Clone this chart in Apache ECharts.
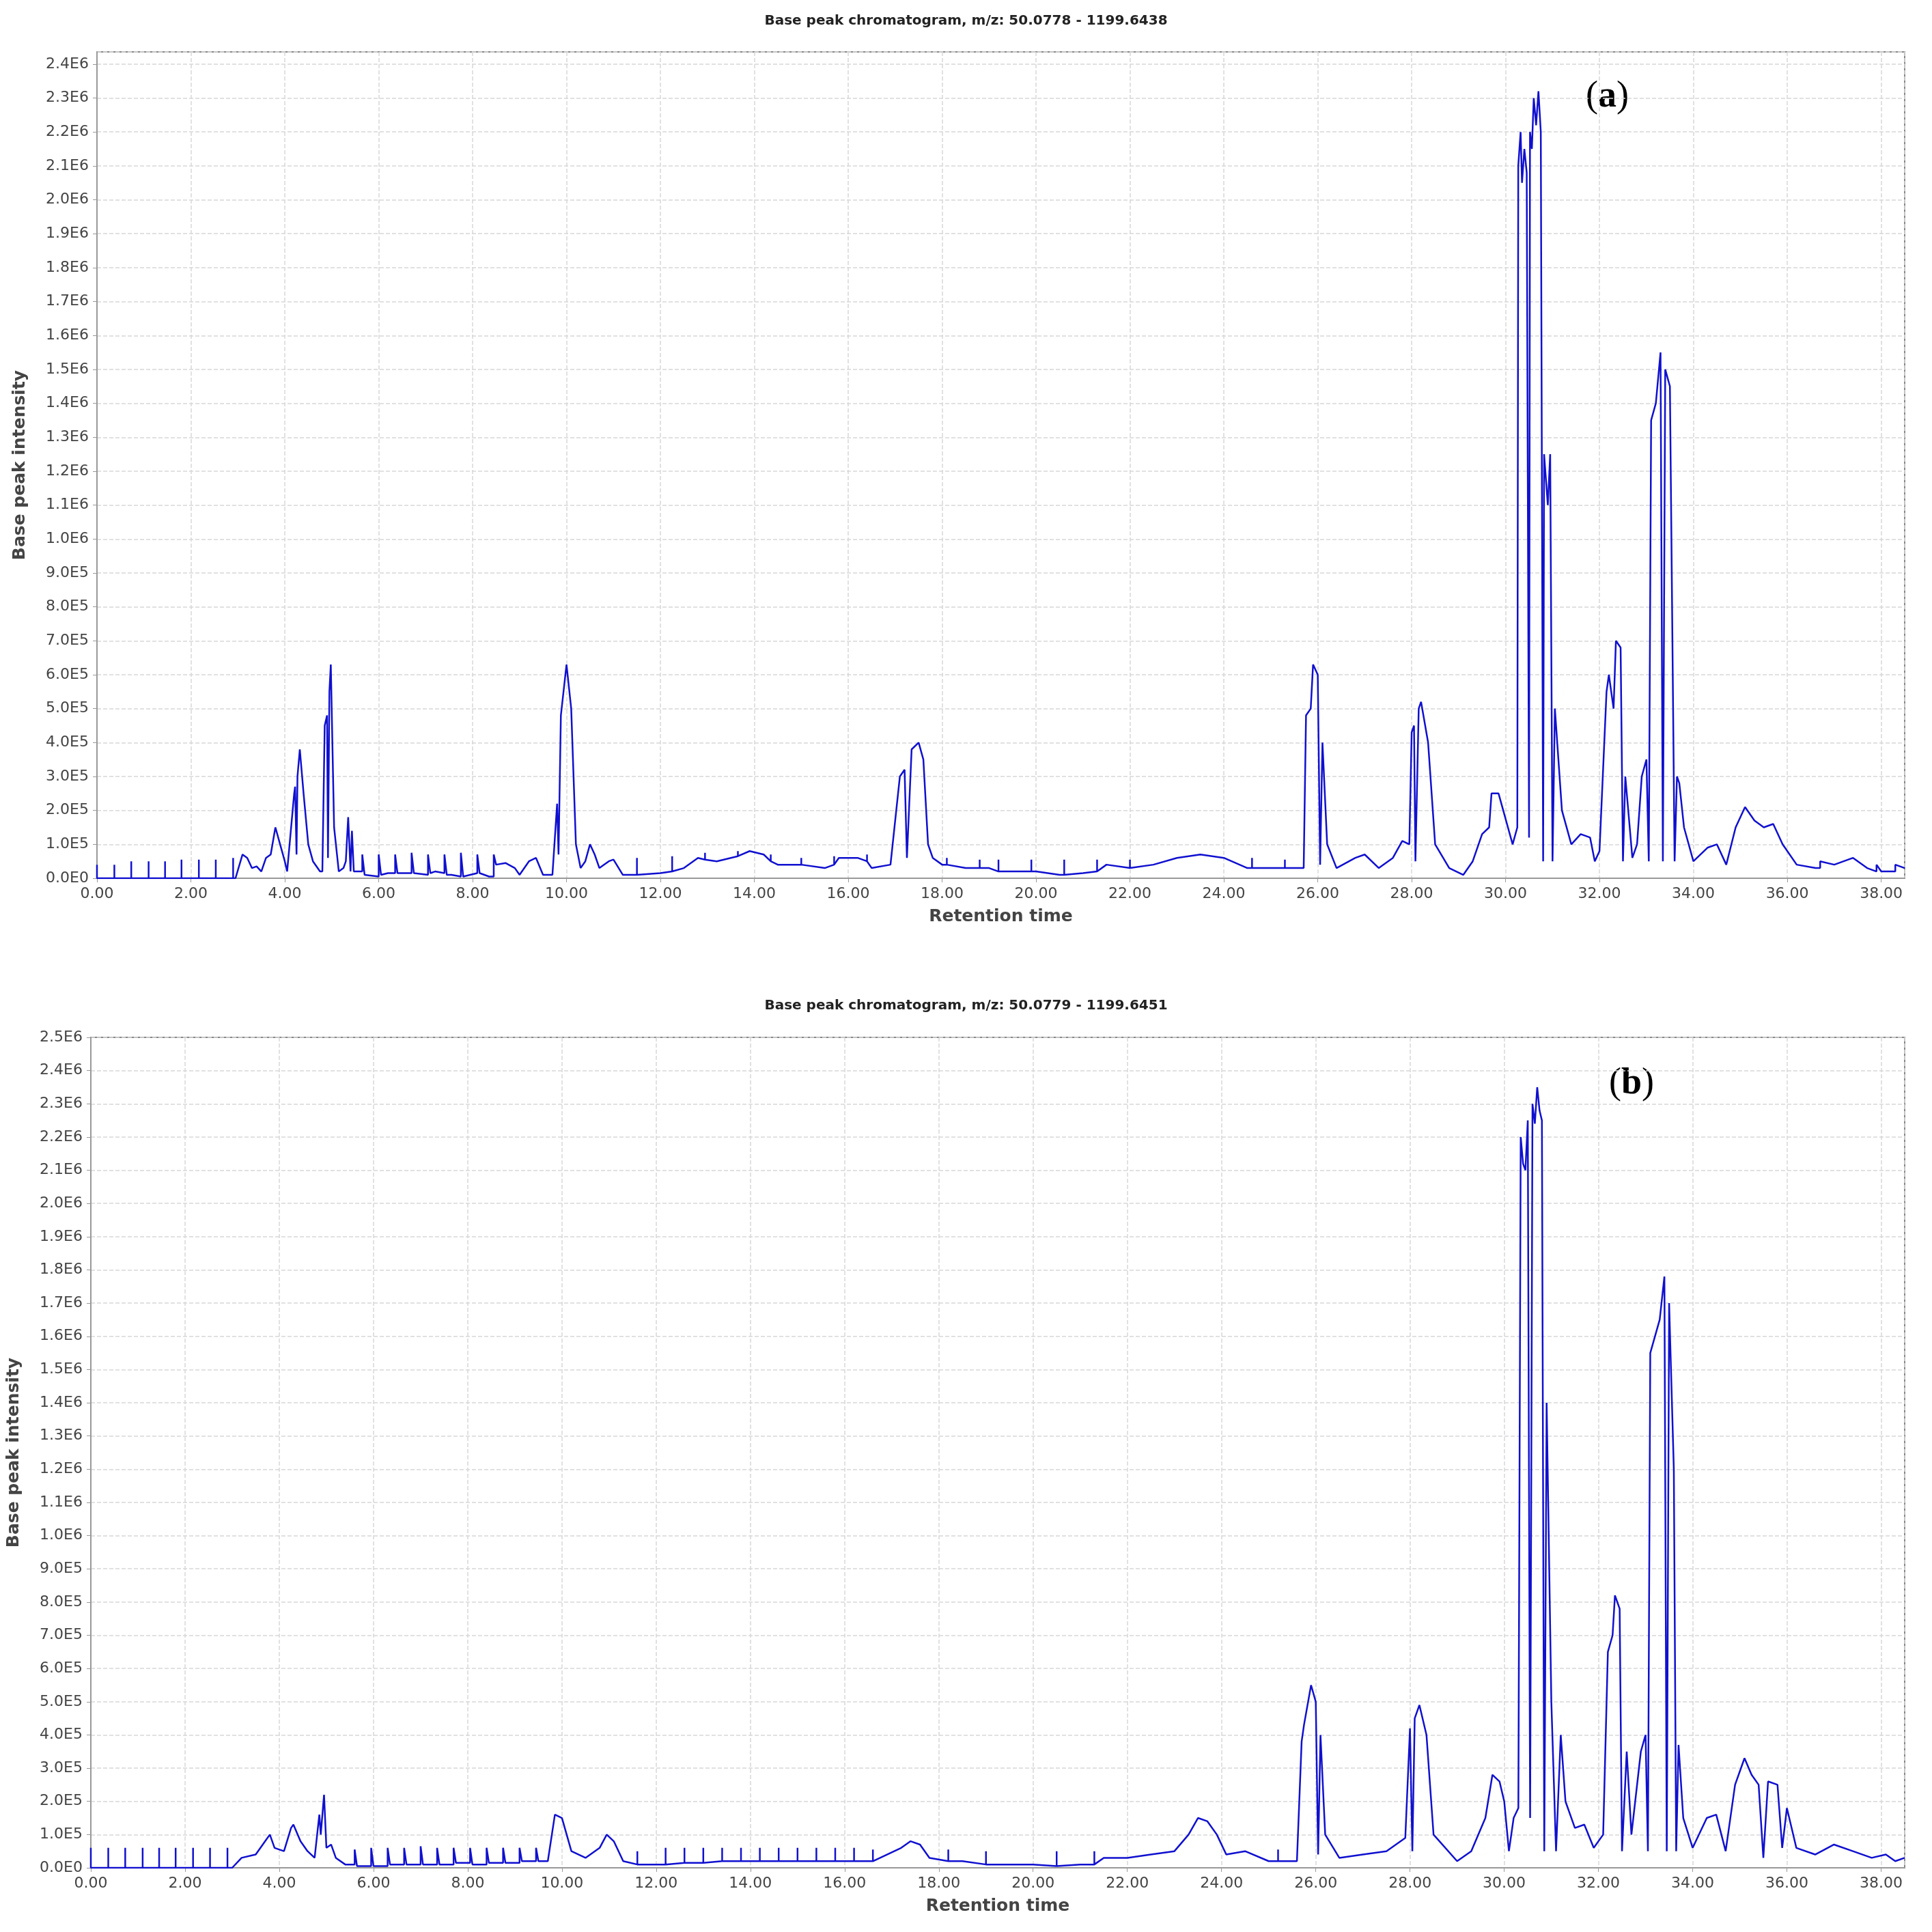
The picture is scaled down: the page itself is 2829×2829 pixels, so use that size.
<!DOCTYPE html>
<html>
<head>
<meta charset="utf-8">
<script src="https://cdn.jsdelivr.net/npm/echarts@6/dist/echarts.min.js"></script>
<style>
  html, body { margin: 0; padding: 0; background: #fff; }
  #chart { width: 2829px; height: 2829px; }
</style>
</head>
<body>
<div id="chart"></div>
<script>
// [retention time (min), intensity in units of 1E5]
var pointsA = [
  [0,0],[0,0.4],[0,0],[0.37,0],[0.37,0.4],[0.37,0],[0.73,0],[0.73,0.5],[0.73,0],[1.1,0],[1.1,0.5],[1.1,0],
  [1.45,0],[1.45,0.5],[1.45,0],[1.8,0],[1.8,0.55],[1.8,0],[2.17,0],[2.17,0.55],[2.17,0],[2.53,0],[2.53,0.55],[2.53,0],
  [2.9,0],[2.9,0.6],[2.9,0],[2.95,0],[3.1,0.7],[3.2,0.6],[3.3,0.3],[3.4,0.35],[3.5,0.2],[3.6,0.6],[3.7,0.7],[3.8,1.5],
  [3.9,1.0],[4.0,0.5],[4.05,0.2],[4.2,2.5],[4.22,2.7],[4.25,0.7],[4.27,3.0],[4.32,3.8],[4.4,2.5],[4.5,1.0],[4.6,0.5],
  [4.75,0.2],[4.8,0.2],[4.85,4.5],[4.9,4.8],[4.92,0.6],[4.95,5.5],[4.98,6.3],[5.05,1.5],[5.15,0.2],[5.25,0.3],[5.3,0.5],
  [5.35,1.8],[5.4,0.2],[5.43,1.4],[5.47,0.2],[5.6,0.2],
  [5.65,0.2],[5.65,0.7],[5.7,0.1],[6.0,0.05],[6.0,0.7],[6.05,0.1],[6.2,0.15],[6.35,0.15],[6.35,0.7],[6.4,0.15],
  [6.7,0.15],[6.7,0.75],[6.75,0.15],[7.05,0.1],[7.05,0.7],[7.1,0.15],[7.2,0.2],[7.4,0.15],[7.4,0.7],[7.45,0.1],
  [7.55,0.1],[7.75,0.05],[7.75,0.75],[7.8,0.05],[8.1,0.15],[8.1,0.7],[8.15,0.15],[8.35,0.05],[8.45,0.05],[8.45,0.7],
  [8.5,0.4],[8.7,0.45],[8.9,0.3],[9.0,0.1],[9.2,0.5],[9.35,0.6],[9.5,0.1],[9.7,0.1],[9.8,2.2],[9.83,0.7],[9.88,4.8],
  [10.0,6.3],[10.1,5.0],[10.2,1.0],[10.3,0.3],[10.4,0.5],[10.5,1.0],[10.6,0.7],[10.7,0.3],[10.9,0.5],[11.0,0.55],[11.2,0.1],
  [11.5,0.1],[11.5,0.6],[11.5,0.1],[12.0,0.15],[12.25,0.2],[12.25,0.65],[12.25,0.2],[12.5,0.3],[12.8,0.6],
  [12.95,0.55],[12.95,0.75],[12.95,0.55],[13.2,0.5],[13.5,0.6],[13.65,0.65],[13.65,0.8],[13.65,0.65],[13.9,0.8],[14.2,0.7],
  [14.35,0.5],[14.35,0.7],[14.35,0.5],[14.5,0.4],[15.0,0.4],[15.0,0.6],[15.0,0.4],[15.5,0.3],[15.7,0.4],[15.7,0.65],[15.7,0.4],
  [15.8,0.6],[16.2,0.6],[16.4,0.5],[16.4,0.7],[16.4,0.5],[16.5,0.3],[16.9,0.4],
  [17.1,3.0],[17.2,3.2],[17.25,0.6],[17.35,3.8],[17.5,4.0],[17.6,3.5],[17.7,1.0],[17.8,0.6],[18.0,0.4],
  [18.1,0.4],[18.1,0.6],[18.1,0.4],[18.5,0.3],[18.8,0.3],[18.8,0.55],[18.8,0.3],[19.0,0.3],[19.2,0.2],[19.2,0.55],[19.2,0.2],
  [19.5,0.2],[19.9,0.2],[19.9,0.55],[19.9,0.2],[20.0,0.2],[20.5,0.1],[20.6,0.1],[20.6,0.55],[20.6,0.1],[21.0,0.15],
  [21.3,0.2],[21.3,0.55],[21.3,0.2],[21.5,0.4],[22.0,0.3],[22.0,0.55],[22.0,0.3],[22.5,0.4],[23.0,0.6],[23.5,0.7],
  [24.0,0.6],[24.5,0.3],[24.6,0.3],[24.6,0.6],[24.6,0.3],[25.0,0.3],[25.3,0.3],[25.3,0.55],[25.3,0.3],[25.5,0.3],[25.7,0.3],
  [25.75,4.8],[25.85,5.0],[25.9,6.3],[26.0,6.0],[26.05,0.4],[26.1,4.0],[26.2,1.0],[26.4,0.3],[26.8,0.6],[27.0,0.7],
  [27.3,0.3],[27.6,0.6],[27.8,1.1],[27.95,1.0],[28.0,4.3],[28.05,4.5],[28.08,0.5],[28.15,5.0],[28.2,5.2],[28.35,4.0],
  [28.5,1.0],[28.8,0.3],[29.1,0.1],[29.3,0.5],[29.5,1.3],[29.65,1.5],[29.7,2.5],[29.85,2.5],[29.95,2.0],[30.05,1.5],
  [30.15,1.0],[30.25,1.5],[30.27,21],[30.32,22],[30.35,20.5],[30.4,21.5],[30.45,20.8],[30.5,1.2],[30.52,22],[30.56,21.5],
  [30.6,23],[30.65,22.2],[30.7,23.2],[30.75,22],[30.8,0.5],[30.82,12.5],[30.9,11],[30.95,12.5],[31.0,0.5],[31.05,5],
  [31.2,2.0],[31.4,1.0],[31.6,1.3],[31.8,1.2],[31.9,0.5],[32.0,0.8],[32.15,5.5],[32.2,6.0],[32.3,5.0],[32.35,7.0],
  [32.45,6.8],[32.5,0.5],[32.55,3.0],[32.7,0.6],[32.8,1.0],[32.9,3.0],[33.0,3.5],[33.05,0.5],[33.1,13.5],[33.2,14.0],
  [33.3,15.5],[33.35,0.5],[33.4,15],[33.5,14.5],[33.6,0.5],[33.65,3],[33.7,2.8],[33.8,1.5],[34.0,0.5],[34.3,0.9],
  [34.5,1.0],[34.7,0.4],[34.9,1.5],[35.1,2.1],[35.3,1.7],[35.5,1.5],[35.7,1.6],[35.9,1.0],[36.2,0.4],[36.6,0.3],
  [36.7,0.3],[36.7,0.5],[37.0,0.4],[37.4,0.6],[37.7,0.3],[37.9,0.2],[37.9,0.4],[38.0,0.2],[38.3,0.2],[38.3,0.4],[38.5,0.3]
];
var pointsB = [
  [0,0],[0,0.6],[0,0],[0.37,0],[0.37,0.6],[0.37,0],[0.73,0],[0.73,0.6],[0.73,0],[1.1,0],[1.1,0.6],[1.1,0],
  [1.45,0],[1.45,0.6],[1.45,0],[1.8,0],[1.8,0.6],[1.8,0],[2.17,0],[2.17,0.6],[2.17,0],[2.53,0],[2.53,0.6],[2.53,0],
  [2.9,0],[2.9,0.6],[2.9,0],[3.0,0],[3.2,0.3],[3.5,0.4],[3.7,0.8],[3.8,1.0],[3.9,0.6],[4.1,0.5],[4.25,1.2],[4.3,1.3],
  [4.45,0.8],[4.6,0.5],[4.75,0.3],[4.85,1.6],[4.88,1.0],[4.95,2.2],[5.0,0.6],[5.1,0.7],[5.2,0.3],[5.4,0.1],
  [5.6,0.1],[5.6,0.55],[5.65,0.05],[5.95,0.05],[5.95,0.6],[6.0,0.05],[6.3,0.05],[6.3,0.6],[6.35,0.1],[6.65,0.1],[6.65,0.6],
  [6.7,0.1],[7.0,0.1],[7.0,0.65],[7.05,0.1],[7.35,0.1],[7.35,0.6],[7.4,0.1],[7.7,0.1],[7.7,0.6],[7.75,0.15],[8.05,0.15],
  [8.05,0.6],[8.1,0.1],[8.4,0.1],[8.4,0.6],[8.45,0.15],[8.75,0.15],[8.75,0.6],[8.8,0.15],[9.1,0.15],[9.1,0.6],[9.15,0.2],
  [9.45,0.2],[9.45,0.6],[9.5,0.2],
  [9.7,0.2],[9.85,1.6],[10.0,1.5],[10.2,0.5],[10.5,0.3],[10.8,0.6],[10.95,1.0],[11.1,0.8],[11.3,0.2],
  [11.6,0.1],[11.6,0.5],[11.6,0.1],[12.0,0.1],[12.2,0.1],[12.2,0.6],[12.2,0.1],[12.6,0.15],[12.6,0.6],[12.6,0.15],
  [13.0,0.15],[13.0,0.6],[13.0,0.15],[13.4,0.2],[13.4,0.6],[13.4,0.2],[13.8,0.2],[13.8,0.6],[13.8,0.2],
  [14.2,0.2],[14.2,0.6],[14.2,0.2],[14.6,0.2],[14.6,0.6],[14.6,0.2],[15.0,0.2],[15.0,0.6],[15.0,0.2],
  [15.4,0.2],[15.4,0.6],[15.4,0.2],[15.8,0.2],[15.8,0.6],[15.8,0.2],[16.2,0.2],[16.2,0.6],[16.2,0.2],
  [16.6,0.2],[16.6,0.55],[16.6,0.2],[17.2,0.6],[17.4,0.8],[17.6,0.7],[17.8,0.3],[18.2,0.2],[18.2,0.55],[18.2,0.2],
  [18.5,0.2],[19.0,0.1],[19.0,0.5],[19.0,0.1],[20.0,0.1],[20.5,0.05],[20.5,0.5],[20.5,0.05],[21.0,0.1],
  [21.3,0.1],[21.3,0.5],[21.3,0.1],[21.5,0.3],[22.0,0.3],[22.5,0.4],[23.0,0.5],[23.3,1.0],[23.5,1.5],[23.7,1.4],
  [23.9,1.0],[24.1,0.4],[24.5,0.5],[25.0,0.2],[25.2,0.2],[25.2,0.55],[25.2,0.2],[25.6,0.2],
  [25.7,3.8],[25.75,4.3],[25.9,5.5],[26.0,5.0],[26.05,0.4],[26.1,4.0],[26.2,1.0],[26.5,0.3],[27.0,0.4],[27.5,0.5],
  [27.9,0.9],[28.0,4.2],[28.05,0.5],[28.1,4.5],[28.2,4.9],[28.35,4.0],[28.5,1.0],[29.0,0.2],[29.3,0.5],[29.6,1.5],
  [29.75,2.8],[29.9,2.6],[30.0,2.0],[30.1,0.5],[30.2,1.5],[30.3,1.8],
  [30.35,22],[30.4,21.2],[30.45,21],[30.5,22.5],[30.55,1.5],[30.6,23],[30.65,22.4],[30.7,23.5],[30.75,22.8],[30.8,22.5],
  [30.85,0.5],[30.9,14],[31.0,5],[31.1,0.5],[31.2,4],[31.3,2],[31.5,1.2],[31.7,1.3],[31.9,0.6],[32.1,1.0],
  [32.2,6.5],[32.3,7.0],[32.35,8.2],[32.45,7.8],[32.5,0.5],[32.6,3.5],[32.7,1.0],[32.9,3.5],[33.0,4.0],[33.05,0.5],
  [33.1,15.5],[33.3,16.5],[33.4,17.8],[33.45,0.5],[33.5,17],[33.6,12],[33.65,0.5],[33.7,3.7],[33.8,1.5],[34.0,0.6],
  [34.3,1.5],[34.5,1.6],[34.7,0.5],[34.9,2.5],[35.1,3.3],[35.25,2.8],[35.4,2.5],[35.5,0.3],[35.6,2.6],[35.8,2.5],
  [35.9,0.6],[36.0,1.8],[36.2,0.6],[36.6,0.4],[37.0,0.7],[37.4,0.5],[37.8,0.3],[38.1,0.4],[38.3,0.2],[38.5,0.3]
];

var titleA = 'Base peak chromatogram, m/z: 50.0778 - 1199.6438';
var titleB = 'Base peak chromatogram, m/z: 50.0779 - 1199.6451';

function scale(pts) {
  return pts.map(function (p) { return [p[0], p[1] * 1e5]; });
}
function sci(v) {
  if (v === 0) return '0.0E0';
  var e = Math.floor(Math.log10(v) + 1e-9);
  return (v / Math.pow(10, e)).toFixed(1) + 'E' + e;
}

var axisLabel = { color: '#444', fontSize: 22, fontFamily: 'DejaVu Sans' };
var grid = { type: 'dashed', color: '#d8d8d8', width: 1.5 };
function xAxis(idx) {
  return {
    gridIndex: idx, type: 'value', min: 0, max: 38.5, interval: 2,
    name: 'Retention time', nameLocation: 'middle', nameGap: 44,
    nameTextStyle: { fontSize: 25, fontWeight: 'bold', color: '#444', fontFamily: 'DejaVu Sans' },
    axisLine: { show: true, onZero: false, lineStyle: { color: '#999', width: 2 } },
    axisTick: { show: true, length: 6, lineStyle: { color: '#999' } },
    axisLabel: Object.assign({ formatter: function (v) { return v.toFixed(2); }, showMaxLabel: false, margin: 12 }, axisLabel),
    splitLine: { show: true, lineStyle: grid }
  };
}
function yAxis(idx, max) {
  return {
    gridIndex: idx, type: 'value', min: 0, max: max, interval: 1e5,
    name: 'Base peak intensity', nameLocation: 'middle', nameGap: 100, nameRotate: 90,
    nameTextStyle: { fontSize: 25, fontWeight: 'bold', color: '#444', fontFamily: 'DejaVu Sans' },
    axisLine: { show: true, lineStyle: { color: '#999', width: 2 } },
    axisTick: { show: true, length: 6, lineStyle: { color: '#999' } },
    axisLabel: Object.assign({ formatter: sci, showMaxLabel: max % 1e5 === 0, margin: 12 }, axisLabel),
    splitLine: { show: true, lineStyle: grid }
  };
}
function line(idx, data) {
  return {
    type: 'line', xAxisIndex: idx, yAxisIndex: idx, data: data, showSymbol: false,
    symbol: 'none', animation: false, lineStyle: { color: '#1010d0', width: 2.5 }
  };
}

var chart = echarts.init(document.getElementById('chart'));
chart.setOption({
  backgroundColor: '#fff',
  title: [
    { text: titleA, left: 'center', top: 16, textStyle: { fontSize: 20, fontWeight: 'bold', color: '#222', fontFamily: 'DejaVu Sans' } },
    { text: titleB, left: 'center', top: 1458, textStyle: { fontSize: 20, fontWeight: 'bold', color: '#222', fontFamily: 'DejaVu Sans' } }
  ],
  grid: [
    { left: 142, right: 40, top: 76, height: 1210, show: true, borderColor: '#888', borderWidth: 2, backgroundColor: '#fff' },
    { left: 132, right: 40, top: 1519, height: 1216, show: true, borderColor: '#888', borderWidth: 2, backgroundColor: '#fff' }
  ],
  xAxis: [xAxis(0), xAxis(1)],
  yAxis: [yAxis(0, 2.436e6), yAxis(1, 2.5e6)],
  series: [line(0, scale(pointsA)), line(1, scale(pointsB))],
  graphic: [
    { type: 'text', left: 2322, top: 115, style: { text: '({b|a})', fontSize: 54, fontFamily: 'Liberation Serif', fill: '#000',
      rich: { b: { fontSize: 54, fontWeight: 'bold', fontFamily: 'Liberation Serif', fill: '#000' } } } },
    { type: 'text', left: 2356, top: 1560, style: { text: '({b|b})', fontSize: 54, fontFamily: 'Liberation Serif', fill: '#000',
      rich: { b: { fontSize: 54, fontWeight: 'bold', fontFamily: 'Liberation Serif', fill: '#000' } } } }
  ]
});
</script>
</body>
</html>
